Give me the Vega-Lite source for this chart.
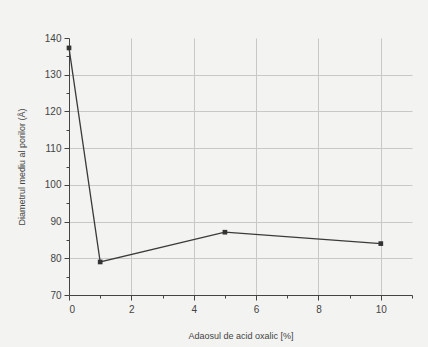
{
  "$schema": "https://vega.github.io/schema/vega-lite/v6.json",
  "autosize": "none",
  "width": 343,
  "height": 257,
  "padding": {"left": 69, "top": 38, "right": 16, "bottom": 52},
  "background": "#f3f3f1",
  "config": {
    "view": {"stroke": null},
    "font": "Liberation Sans",
    "axis": {
      "labelFont": "Liberation Sans",
      "titleFont": "Liberation Sans",
      "labelFontSize": 10,
      "titleFontSize": 9,
      "labelColor": "#444",
      "titleColor": "#444",
      "titleFontWeight": "normal",
      "domainColor": "#444",
      "tickColor": "#444",
      "gridColor": "#c8c8c8",
      "gridWidth": 1
    }
  },
  "data": {
    "values": [
      {"x": 0, "y": 137.3},
      {"x": 1, "y": 79},
      {"x": 5, "y": 87.1},
      {"x": 10, "y": 84}
    ]
  },
  "encoding": {
    "x": {
      "field": "x",
      "type": "quantitative",
      "scale": {"domain": [0, 11], "nice": false},
      "axis": {
        "title": "Adaosul de acid oxalic [%]",
        "values": [0, 1, 2, 3, 4, 5, 6, 7, 8, 9, 10, 11],
        "labelExpr": "datum.value % 2 === 0 && datum.value <= 10 ? datum.label : ''",
        "tickSize": {"condition": {"test": "datum.value % 2 === 0", "value": 5}, "value": 3},
        "gridOpacity": {"condition": {"test": "datum.value % 2 === 0 && datum.value > 0 && datum.value <= 10", "value": 1}, "value": 0},
        "titlePadding": 17,
        "labelPadding": 4
      }
    },
    "y": {
      "field": "y",
      "type": "quantitative",
      "scale": {"domain": [70, 140], "nice": false},
      "axis": {
        "title": "Diametrul mediu al porilor (Å)",
        "values": [70, 75, 80, 85, 90, 95, 100, 105, 110, 115, 120, 125, 130, 135, 140],
        "labelExpr": "datum.value % 10 === 0 ? datum.label : ''",
        "tickSize": {"condition": {"test": "datum.value % 10 === 0", "value": 5}, "value": 3},
        "gridOpacity": {"condition": {"test": "datum.value % 10 === 0 && datum.value > 70 && datum.value < 140", "value": 1}, "value": 0},
        "titlePadding": 18,
        "labelPadding": 3
      }
    }
  },
  "layer": [
    {"mark": {"type": "line", "color": "#3a3a3a", "strokeWidth": 1.3}},
    {"mark": {"type": "point", "shape": "square", "filled": true, "color": "#333", "size": 22, "opacity": 1}}
  ]
}
